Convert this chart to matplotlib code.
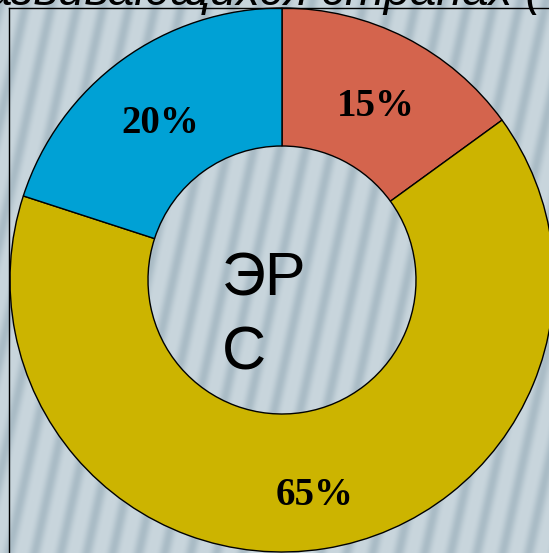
import numpy as np
import matplotlib
matplotlib.use("Agg")
import matplotlib.pyplot as plt
from matplotlib.lines import Line2D

# data
labels = ["15%", "65%", "20%"]
shares = [15, 65, 20]
colors = ["#d4644d", "#ccb400", "#00a1d5"]
center_text = ["ЭР", "С"]
top_text = "развивающихся странах ("

W, H = 549, 553
fig = plt.figure(figsize=(W / 100, H / 100), dpi=100)

# striped background (soft diagonal stripes)
ax_bg = fig.add_axes([0, 0, 1, 1])
ax_bg.set_axis_off()
yy, xx = np.mgrid[0:H, 0:W]
phase = (xx + 0.22 * yy) / 26.0
s = (0.5 + 0.5 * np.cos(2 * np.pi * phase)) ** 2
base = np.array([201, 214, 221]) / 255
dark = np.array([170, 188, 198]) / 255
img = base[None, None, :] - s[:, :, None] * (base - dark)[None, None, :]
ax_bg.imshow(img, aspect="auto", extent=[0, 1, 0, 1], interpolation="bilinear")
ax_bg.set_xlim(0, 1)
ax_bg.set_ylim(0, 1)

# frame
fig.add_artist(Line2D([9 / W, 9 / W], [0, 1 - 8 / H], color="black", lw=1.0, transform=fig.transFigure))
fig.add_artist(Line2D([9 / W, 1], [1 - 8 / H, 1 - 8 / H], color="black", lw=1.0, transform=fig.transFigure))

# donut
cx, cy, R = 282, 280, 272
ax = fig.add_axes([0, 0, 1, 1])
ax.set_facecolor("none")
ax.pie(shares, colors=colors, startangle=90, counterclock=False, radius=1,
       wedgeprops=dict(width=1 - 134 / R, edgecolor="black", linewidth=1.0))
ax.set_xlim(-cx / R, (W - cx) / R)
ax.set_ylim(-(H - cy) / R, cy / R)
ax.set_aspect("auto")
ax.set_axis_off()

# percentage labels
ang = 90.0
for lab, v in zip(labels, shares):
    mid = np.deg2rad(ang - v / 100 * 360 / 2)
    ang -= v / 100 * 360
    ax.text(0.76 * np.cos(mid), 0.76 * np.sin(mid) - 0.04, lab, ha="center", va="center",
            fontsize=28, fontweight="bold", family="Liberation Serif", color="black")

# centre text
fig.text(222 / W, 1 - 295 / H, center_text[0], ha="left", va="baseline",
         fontsize=44, family="Liberation Sans", color="black")
fig.text(222 / W, 1 - 370 / H, center_text[1], ha="left", va="baseline",
         fontsize=44, family="Liberation Sans", color="black")

# cut-off title at the top
fig.text(541 / W, 1 - 5 / H, top_text, ha="right", va="baseline",
         fontsize=34, style="italic", family="Liberation Sans", color="black")

fig.savefig("out.png", dpi=100)
